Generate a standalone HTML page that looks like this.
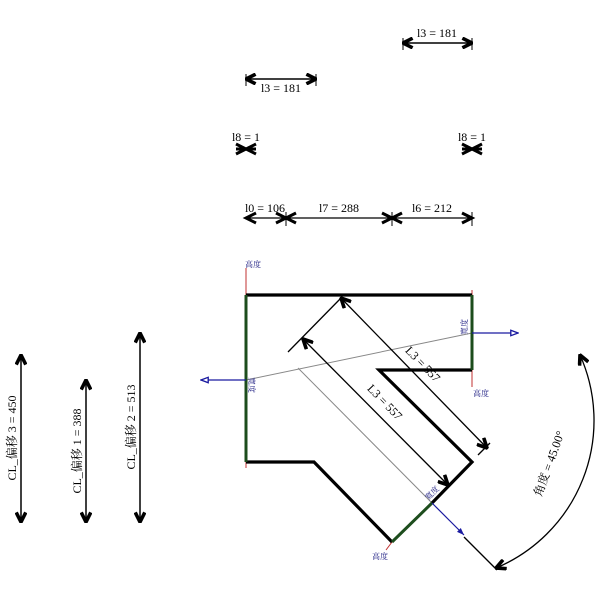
<!DOCTYPE html>
<html><head><meta charset="utf-8"><style>
html,body{margin:0;padding:0;background:#fff;}
svg text{font-family:"Liberation Serif","Noto Serif CJK SC",serif;}
</style></head><body>
<svg width="600" height="600" viewBox="0 0 600 600" xmlns="http://www.w3.org/2000/svg">
<defs>
<marker id="a" viewBox="0 0 10 10" refX="9" refY="5" markerWidth="12" markerHeight="12" markerUnits="userSpaceOnUse" orient="auto-start-reverse">
<path d="M1,1 L9,5 L1,9" fill="none" stroke="#000" stroke-width="3"/>
</marker>
<marker id="b" viewBox="0 0 10 10" refX="9" refY="5" markerWidth="9" markerHeight="9" markerUnits="userSpaceOnUse" orient="auto">
<path d="M1,2 L9,5 L1,8 Z" fill="#fff" stroke="#1a1aa0" stroke-width="1.5"/>
</marker>
<marker id="c" viewBox="0 0 10 10" refX="9" refY="5" markerWidth="9" markerHeight="9" markerUnits="userSpaceOnUse" orient="auto">
<path d="M1,2 L9,5 L1,8 Z" fill="#1a1aa0"/>
</marker>
</defs>
<g stroke="#000" stroke-width="1.5" fill="none">
<line x1="403" y1="43" x2="472" y2="43" marker-start="url(#a)" marker-end="url(#a)"/>
<line x1="403" y1="38" x2="403" y2="50" stroke-width="1"/><line x1="472" y1="38" x2="472" y2="50" stroke-width="1"/>
<line x1="246" y1="79" x2="316" y2="79" marker-start="url(#a)" marker-end="url(#a)"/>
<line x1="246" y1="74" x2="246" y2="86" stroke-width="1"/><line x1="316" y1="74" x2="316" y2="86" stroke-width="1"/>
<path d="M236,144 L246,149 L236,154 M256,144 L246,149 L256,154 M236,149 H256" stroke-width="3"/>
<path d="M462,144 L472,149 L462,154 M482,144 L472,149 L482,154 M462,149 H482" stroke-width="3"/>
<line x1="246" y1="218" x2="472" y2="218" stroke-width="1.3"/>
<path d="M256,213 L246,218 L256,223" stroke-width="3"/>
<path d="M276,213 L286,218 L276,223 M296,213 L286,218 L296,223" stroke-width="3"/>
<path d="M382,213 L392,218 L382,223 M402,213 L392,218 L402,223" stroke-width="3"/>
<path d="M462,213 L472,218 L462,223" stroke-width="3"/>
<line x1="286" y1="212" x2="286" y2="226" stroke-width="1"/><line x1="392" y1="212" x2="392" y2="226" stroke-width="1"/>
<line x1="472" y1="212" x2="472" y2="226" stroke-width="1"/>
<line x1="21" y1="355" x2="21" y2="522" marker-start="url(#a)" marker-end="url(#a)"/>
<line x1="86" y1="380" x2="86" y2="522" marker-start="url(#a)" marker-end="url(#a)"/>
<line x1="140" y1="333" x2="140" y2="522" marker-start="url(#a)" marker-end="url(#a)"/>
</g>
<g font-size="12" fill="#000">
<text x="437" y="37" text-anchor="middle">l3 = 181</text>
<text x="281" y="92" text-anchor="middle">l3 = 181</text>
<text x="246" y="141" text-anchor="middle">l8 = 1</text>
<text x="472" y="141" text-anchor="middle">l8 = 1</text>
<text x="265" y="212" text-anchor="middle">l0 = 106</text>
<text x="339" y="212" text-anchor="middle">l7 = 288</text>
<text x="432" y="212" text-anchor="middle">l6 = 212</text>
<text transform="translate(16,438) rotate(-90)" text-anchor="middle">CL_偏移 3 = 450</text>
<text transform="translate(81,451) rotate(-90)" text-anchor="middle">CL_偏移 1 = 388</text>
<text transform="translate(135,427) rotate(-90)" text-anchor="middle">CL_偏移 2 = 513</text>
</g>
<g fill="none">
<line x1="246" y1="268" x2="246" y2="295" stroke="#c03030" stroke-width="1"/>
<line x1="246" y1="462" x2="246" y2="468" stroke="#c03030" stroke-width="1"/>
<line x1="472" y1="290" x2="472" y2="295" stroke="#c03030" stroke-width="1"/>
<line x1="472" y1="370" x2="472" y2="387" stroke="#c03030" stroke-width="1"/>
<line x1="392" y1="542" x2="386" y2="550" stroke="#c03030" stroke-width="1"/>
<line x1="246" y1="380" x2="472" y2="333" stroke="#888" stroke-width="1"/>
<line x1="298" y1="368" x2="432" y2="503" stroke="#888" stroke-width="1"/>
<path d="M246,295 H472 M472,370 H379 L472,462 L432,503 M246,462 H314 L392,542" stroke="#000" stroke-width="3.2"/>
<line x1="246" y1="295" x2="246" y2="462" stroke="#1d4d1d" stroke-width="3"/>
<line x1="472" y1="295" x2="472" y2="370" stroke="#1d4d1d" stroke-width="3"/>
<line x1="432" y1="503" x2="392" y2="542" stroke="#1d4d1d" stroke-width="3"/>
<line x1="246" y1="380" x2="201" y2="380" stroke="#1a1aa0" stroke-width="1.2" marker-end="url(#b)"/>
<line x1="472" y1="333" x2="518" y2="333" stroke="#1a1aa0" stroke-width="1.2" marker-end="url(#b)"/>
<line x1="432" y1="503" x2="464" y2="535" stroke="#1a1aa0" stroke-width="1.2" marker-end="url(#c)"/>
<g stroke="#000" stroke-width="1.3">
<line x1="288" y1="352" x2="342" y2="297"/>
<line x1="464" y1="537" x2="497" y2="570"/>
<line x1="341" y1="298" x2="487" y2="448" marker-start="url(#a)" marker-end="url(#a)"/>
<line x1="303" y1="339" x2="448" y2="485" marker-start="url(#a)" marker-end="url(#a)"/>
<line x1="478" y1="455" x2="490" y2="443"/>
<path d="M580,355 A160,160 0 0 1 496,568" marker-start="url(#a)" marker-end="url(#a)"/>
</g>
</g>
<g font-size="12" fill="#000">
<text transform="translate(420,367) rotate(46)" text-anchor="middle">L3 = 557</text>
<text transform="translate(382,405) rotate(46)" text-anchor="middle">L3 = 557</text>
<text transform="translate(553,465) rotate(-70)" text-anchor="middle">角度 = 45.00°</text>
</g>
<g font-size="8" fill="#1a1a80">
<text x="245" y="267">高度</text>
<text x="473" y="396">高度</text>
<text x="372" y="559">高度</text>
<text transform="translate(249,385) rotate(90)" text-anchor="middle">寬度</text>
<text transform="translate(467,327) rotate(-90)" text-anchor="middle">寬度</text>
<text transform="translate(434,495) rotate(-45)" text-anchor="middle">寬度</text>
</g>
</svg>
</body></html>
